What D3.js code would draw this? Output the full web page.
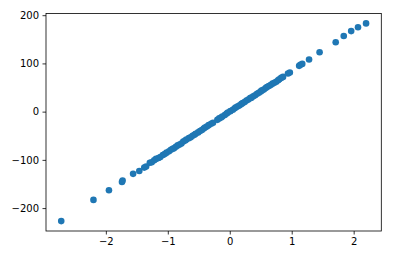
<!DOCTYPE html>
<html lang="en">
<head>
<meta charset="UTF-8">
<title>Scatter</title>
<style>
  body { margin: 0; background: #fff; }
  .tick text { font: 10px "DejaVu Sans", sans-serif; fill: #000; }
</style>
</head>
<body>
<script src="https://d3js.org/d3.v7.min.js"></script>
<script>
const xs = [-2.72, -2.20, -1.95, -1.74, -1.73, -1.56, -1.46, -1.38, -1.35, -1.29,
  -1.26, -1.22, -1.19, -1.15, -1.12, -1.08, -1.05, -1.02, -0.98, -0.95,
  -0.92, -0.90, -0.87, -0.84, -0.81, -0.78, -0.75, -0.72, -0.70, -0.66,
  -0.63, -0.60, -0.57, -0.55, -0.51, -0.48, -0.45, -0.42, -0.40, -0.37,
  -0.34, -0.30, -0.27, -0.20, -0.17, -0.14, -0.12, -0.08, -0.05, -0.03,
  0.01, 0.05, 0.08, 0.10, 0.13, 0.16, 0.19, 0.21, 0.24, 0.27,
  0.30, 0.33, 0.35, 0.38, 0.41, 0.44, 0.47, 0.50, 0.52, 0.55,
  0.58, 0.60, 0.63, 0.66, 0.69, 0.72, 0.75, 0.78, 0.80, 0.83,
  0.86, 0.94, 0.97, 1.12, 1.14, 1.17, 1.28, 1.45, 1.71, 1.84,
  1.96, 2.07, 2.20];
const ys = [-227, -183, -163, -146, -143, -129, -123, -116, -114, -106,
  -105, -101, -98, -96, -94, -90, -88, -85, -82, -79,
  -77, -76, -73, -70, -68, -66, -62, -60, -58, -55,
  -53, -50, -48, -46, -43, -40, -38, -35, -33, -31,
  -28, -25, -23, -17, -14, -12, -10, -7, -4, -2,
  1, 4, 7, 9, 11, 13, 16, 18, 20, 23,
  25, 28, 29, 32, 34, 37, 39, 42, 44, 46,
  49, 51, 53, 55, 58, 60, 62, 65, 67, 70,
  72, 79, 81, 95, 97, 99, 108, 123, 144, 157,
  167, 175, 183];
const xTicks = [-2, -1, 0, 1, 2];
const yTicks = [-200, -100, 0, 100, 200];

const W = 416, H = 257;
const m = { left: 46, right: 381.3, top: 13.5, bottom: 231 };

function padded(vals) {
  const [a, b] = d3.extent(vals);
  const p = (b - a) * 0.05;
  return [a - p, b + p];
}

const x = d3.scaleLinear().domain(padded(xs)).range([m.left, m.right]);
const y = d3.scaleLinear().domain(padded(ys)).range([m.bottom, m.top]);

const svg = d3.select("body").append("svg")
  .attr("width", W).attr("height", H);

svg.append("g")
  .selectAll("circle")
  .data(xs.map((v, i) => [v, ys[i]]))
  .enter().append("circle")
  .attr("cx", d => x(d[0]))
  .attr("cy", d => y(d[1]))
  .attr("r", 3.3)
  .attr("fill", "#1f77b4");

const fmt = d => d < 0 ? "\u2212" + Math.abs(d) : String(d);

const xAxis = svg.append("g")
  .attr("transform", `translate(0,${m.bottom})`)
  .call(d3.axisBottom(x).tickValues(xTicks).tickFormat(fmt).tickSizeOuter(0).tickSize(3.5).tickPadding(3.5));
const yAxis = svg.append("g")
  .attr("transform", `translate(${m.left},0)`)
  .call(d3.axisLeft(y).tickValues(yTicks).tickFormat(fmt).tickSizeOuter(0).tickSize(3.5).tickPadding(3.5));

[xAxis, yAxis].forEach(g => {
  g.select(".domain").remove();
  g.selectAll(".tick line").attr("stroke", "#000").attr("stroke-width", 0.8);
});

// frame
svg.append("rect")
  .attr("x", m.left).attr("y", m.top)
  .attr("width", m.right - m.left).attr("height", m.bottom - m.top)
  .attr("fill", "none").attr("stroke", "#000").attr("stroke-width", 0.8);
</script>
</body>
</html>
